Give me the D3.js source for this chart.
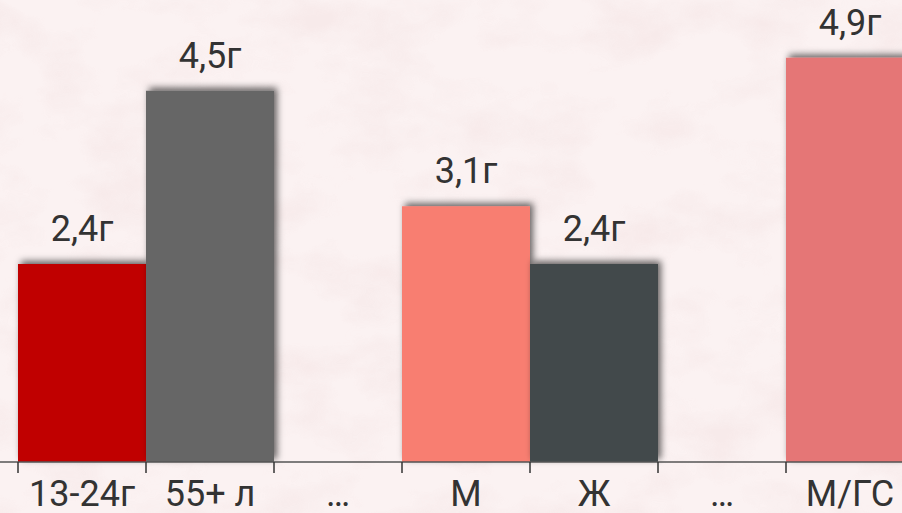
<!DOCTYPE html>
<head>
  <meta charset="utf-8" />
  <script src="https://d3js.org/d3.v7.min.js"></script>
  <style>
    body {
      margin: 0;
      background: #fbf2f2;
      overflow: hidden;
    }
    text {
      font-family: Roboto, "Noto Sans", sans-serif;
      fill: #333;
    }
  </style>
</head>

<body>
  <script>
    var width = 902,
      height = 513;

    // donnees
    var categories = ["13-24г", "55+ л", "…", "М", "Ж", "… ", "М/ГС"];
    var values = [2.4, 4.5, null, 3.1, 2.4, null, 4.9];
    var labels = ["2,4г", "4,5г", "", "3,1г", "2,4г", "", "4,9г"];
    var colors = ["#c00000", "#666666", "none", "#f87e71", "#434a4c", "none", "#e57676"];

    var svg = d3
      .select("body")
      .append("svg")
      .attr("width", width)
      .attr("height", height);

    var defs = svg.append("defs");

    // texture marbre legere
    var tex = defs.append("filter").attr("id", "marble")
      .attr("x", 0).attr("y", 0).attr("width", "100%").attr("height", "100%");
    tex.append("feTurbulence")
      .attr("type", "fractalNoise")
      .attr("baseFrequency", "0.012 0.02")
      .attr("numOctaves", 4)
      .attr("seed", 7);
    tex.append("feColorMatrix")
      .attr("values", "0 0 0 0 0.92  0 0 0 0 0.80  0 0 0 0 0.80  0 0 0 -2.6 1.45");

    var shadow = defs.append("filter").attr("id", "shadow")
      .attr("x", "-20%").attr("y", "-20%").attr("width", "140%").attr("height", "140%");
    shadow.append("feDropShadow")
      .attr("dx", 3).attr("dy", -3)
      .attr("stdDeviation", 3.5)
      .attr("flood-color", "#000")
      .attr("flood-opacity", 0.6);

    svg.append("rect")
      .attr("width", width).attr("height", height)
      .attr("fill", "#fbf2f2");
    svg.append("rect")
      .attr("width", width).attr("height", height)
      .attr("filter", "url(#marble)")
      .attr("opacity", 0.7);

    var x = d3.scaleBand()
      .domain(categories)
      .range([18, 914])
      .padding(0);

    var y = d3.scaleLinear()
      .domain([0, 5.6])
      .range([462, 0]);

    var g = svg.append("g");

    var data = categories.map((c, i) => ({ cat: c, value: values[i], label: labels[i], color: colors[i] }));

    g.selectAll("rect.bar")
      .data(data.filter(d => d.value != null))
      .join("rect")
      .attr("class", "bar")
      .attr("x", d => x(d.cat))
      .attr("y", d => y(d.value))
      .attr("width", x.bandwidth())
      .attr("height", d => y(0) - y(d.value))
      .attr("fill", d => d.color)
      .attr("filter", "url(#shadow)");

    g.selectAll("text.val")
      .data(data.filter(d => d.value != null))
      .join("text")
      .attr("class", "val")
      .attr("x", d => x(d.cat) + x.bandwidth() / 2)
      .attr("y", d => y(d.value) - 23)
      .attr("text-anchor", "middle")
      .style("font-size", "36px")
      .text(d => d.label);

    var axis = svg.append("g")
      .attr("transform", "translate(0,462)")
      .call(d3.axisBottom(x).tickSize(11).tickSizeOuter(0).tickFormat(d => d.trim()));

    axis.select(".domain").attr("stroke", "#555").attr("stroke-width", 1.5)
      .attr("d", "M0,0H" + width);
    axis.selectAll(".tick line")
      .attr("stroke", "#333")
      .attr("stroke-width", 1.5)
      .attr("transform", "translate(" + (-x.bandwidth() / 2) + ",0)");
    axis.selectAll(".tick text")
      .attr("y", 44)
      .attr("dy", 0)
      .style("font-size", "36px")
      .style("fill", "#333");
  </script>
</body>
